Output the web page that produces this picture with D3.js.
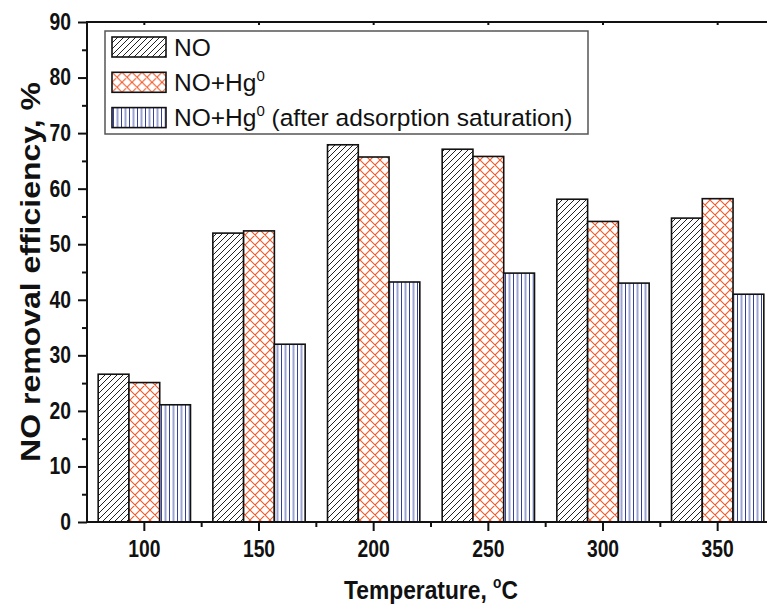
<!DOCTYPE html>
<html>
<head>
<meta charset="utf-8">
<script src="https://cdn.jsdelivr.net/npm/d3@7"></script>
<style>
body { margin: 0; background: #fff; }
svg { display: block; font-family: "Liberation Sans", Arial, sans-serif; }
</style>
</head>
<body>
<svg id="chart" width="767" height="605"></svg>
<script>
// data
var temperatures = ["100", "150", "200", "250", "300", "350"];
var noValues = [26.6, 52.0, 67.9, 67.1, 58.1, 54.7];
var noHgValues = [25.1, 52.4, 65.7, 65.8, 54.1, 58.2];
var saturatedValues = [21.1, 32.0, 43.2, 44.8, 43.0, 41.0];
var yTicks = [0, 10, 20, 30, 40, 50, 60, 70, 80, 90];
var yMinorTicks = [5, 15, 25, 35, 45, 55, 65, 75, 85];
// legend label: [text, superscript, text after]
var legendLabels = [
    ["NO", "", ""],
    ["NO+Hg", "0", ""],
    ["NO+Hg", "0", " (after adsorption saturation)"]
];

var series = [
    { values: noValues, fill: "url(#hatchNO)" },
    { values: noHgValues, fill: "url(#crossHg)" },
    { values: saturatedValues, fill: "url(#stripeSat)" }
];

var style = {
    left: 87, right: 775, top: 22, bottom: 522,
    squeeze: 0.84
};

var svg = d3.select("#chart");

var x = d3.scaleBand()
    .domain(temperatures)
    .range([style.left, style.right])
    .paddingInner(0.195)
    .paddingOuter(0.0975);

var xInner = d3.scaleBand()
    .domain(d3.range(series.length))
    .range([0, x.bandwidth()]);

var y = d3.scaleLinear()
    .domain([0, 90])
    .range([style.bottom, style.top]);

// fill patterns
var defs = svg.append("defs");

var p1 = defs.append("pattern")
    .attr("id", "hatchNO")
    .attr("patternUnits", "userSpaceOnUse")
    .attr("width", 6).attr("height", 6);
p1.append("rect").attr("width", 6).attr("height", 6).attr("fill", "#fff");
p1.append("path")
    .attr("d", "M0,6 L6,0 M-1.5,1.5 L1.5,-1.5 M4.5,7.5 L7.5,4.5")
    .attr("stroke", "#222")
    .attr("stroke-width", 1);

var p2 = defs.append("pattern")
    .attr("id", "crossHg")
    .attr("patternUnits", "userSpaceOnUse")
    .attr("width", 10).attr("height", 10);
p2.append("rect").attr("width", 10).attr("height", 10).attr("fill", "#fff");
p2.append("path")
    .attr("d", "M0,10 L10,0 M-2,2 L2,-2 M8,12 L12,8 M0,0 L10,10 M-2,8 L2,12 M8,-2 L12,2")
    .attr("stroke", "#f15a29")
    .attr("stroke-width", 1.1);

var p3 = defs.append("pattern")
    .attr("id", "stripeSat")
    .attr("patternUnits", "userSpaceOnUse")
    .attr("width", 8).attr("height", 8);
p3.append("rect").attr("width", 8).attr("height", 8).attr("fill", "#fff");
p3.append("rect").attr("x", 1).attr("width", 1).attr("height", 8).attr("fill", "#343f9c");
p3.append("rect").attr("x", 4.5).attr("width", 2).attr("height", 8).attr("fill", "#9ea3d6");

// bars
var barLayer = svg.append("g");

series.forEach(function (s, si) {
    barLayer.selectAll(".bar" + si)
        .data(s.values)
        .enter()
        .append("rect")
        .attr("class", "bar" + si)
        .attr("x", function (d, i) { return x(temperatures[i]) + xInner(si); })
        .attr("y", function (d) { return y(d); })
        .attr("width", xInner.bandwidth())
        .attr("height", function (d) { return y(0) - y(d); })
        .attr("fill", s.fill)
        .attr("stroke", "#111")
        .attr("stroke-width", 1.6);
});

// axes
var tickFont = function (g) {
    g.selectAll("text")
        .attr("fill", "#111")
        .style("font-size", "23px")
        .style("font-weight", "bold");
    g.selectAll("line").attr("stroke", "#111").attr("stroke-width", 2);
    g.select(".domain").remove();
};

var xAxis = svg.append("g")
    .attr("transform", "translate(0," + style.bottom + ")")
    .call(d3.axisBottom(x).tickSize(9).tickPadding(10))
    .call(tickFont);
xAxis.selectAll("text").attr("transform", "scale(" + style.squeeze + ",1)");

// minor ticks between temperatures
svg.append("g")
    .selectAll("line")
    .data(temperatures.slice(0, -1))
    .enter()
    .append("line")
    .attr("x1", function (d) { return x(d) + x.bandwidth() / 2 + x.step() / 2; })
    .attr("x2", function (d) { return x(d) + x.bandwidth() / 2 + x.step() / 2; })
    .attr("y1", style.bottom)
    .attr("y2", style.bottom + 5)
    .attr("stroke", "#111")
    .attr("stroke-width", 2);

// small inward ticks on the top frame
svg.append("g")
    .attr("transform", "translate(0," + style.top + ")")
    .call(d3.axisTop(x).tickSize(-3).tickFormat(""))
    .call(tickFont);

var yAxis = svg.append("g")
    .attr("transform", "translate(" + style.left + ",0)")
    .call(d3.axisLeft(y).tickValues(yTicks).tickSize(9))
    .call(tickFont);
yAxis.selectAll("text")
    .attr("x", null)
    .attr("transform", "translate(-16,0) scale(" + style.squeeze + ",1)");

svg.append("g")
    .attr("transform", "translate(" + style.left + ",0)")
    .call(d3.axisLeft(y).tickValues(yMinorTicks).tickSize(5).tickFormat(""))
    .call(tickFont);

// frame
svg.append("path")
    .attr("d", "M" + style.right + "," + style.top + " H" + style.left + " V" + style.bottom + " H" + style.right)
    .attr("fill", "none")
    .attr("stroke", "#111")
    .attr("stroke-width", 2);

// axis titles
var xTitle = svg.append("text")
    .attr("transform", "translate(" + ((style.left + style.right) / 2) + ",599) scale(0.86,1)")
    .attr("text-anchor", "middle")
    .style("font-size", "26.5px")
    .style("font-weight", "bold")
    .attr("fill", "#111");
xTitle.append("tspan").text("Temperature, ");
xTitle.append("tspan").attr("dy", -11).style("font-size", "16px").text("o");
xTitle.append("tspan").attr("dy", 11).text("C");

svg.append("text")
    .attr("transform", "translate(40," + ((style.top + style.bottom) / 2) + ") rotate(-90) scale(1,0.86)")
    .attr("text-anchor", "middle")
    .style("font-size", "32px")
    .style("font-weight", "bold")
    .attr("fill", "#111")
    .text("NO removal efficiency, %");

// legend
var legend = svg.append("g");
legend.append("rect")
    .attr("x", 105).attr("y", 31)
    .attr("width", 483).attr("height", 103)
    .attr("fill", "#fff")
    .attr("stroke", "#555")
    .attr("stroke-width", 1.5);

var rows = legend.selectAll(".legendRow")
    .data(series)
    .enter()
    .append("g")
    .attr("class", "legendRow")
    .attr("transform", function (d, i) { return "translate(112," + (37 + i * 35.3) + ")"; });

rows.append("rect")
    .attr("width", 54).attr("height", 20)
    .attr("fill", function (d) { return d.fill; })
    .attr("stroke", "#111")
    .attr("stroke-width", 1.6);

var labels = rows.append("text")
    .attr("x", 62).attr("y", 18.5)
    .style("font-size", "24.5px")
    .attr("fill", "#111");

labels.each(function (d, i) {
    var t = d3.select(this);
    var parts = legendLabels[i];
    t.append("tspan").text(parts[0]);
    if (parts[1]) {
        t.append("tspan").attr("dy", -10).style("font-size", "15px").text(parts[1]);
        t.append("tspan").attr("dy", 10).text(parts[2]);
    }
});
</script>
</body>
</html>
